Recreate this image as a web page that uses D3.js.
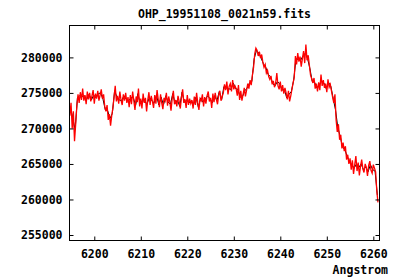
<!DOCTYPE html>
<html>
<head>
<meta charset="utf-8">
<script src="https://cdn.jsdelivr.net/npm/d3@7"></script>
<style>
  html, body { margin: 0; padding: 0; background: #fff; }
  #chart { width: 400px; height: 280px; }
  text { font-family: "DejaVu Sans Mono", monospace; font-weight: bold; font-size: 11.5px; fill: #000; }
</style>
</head>
<body>
<div id="chart"></div>
<script>
// spectrum header (linear wavelength grid, like CRVAL1 / CDELT1)
const TITLE = 'OHP_19951108_0021n59.fits';
const X_LABEL = 'Angstrom';

const redStart = 6194.75;
const redStep = 0.25;
// flux in thousands
const redFlux = [
  271.8, 273.6, 270.0, 272.4, 268.2, 270.6,
  273.2, 274.8, 273.6, 275.1, 274.0, 275.6, 273.9, 274.7, 273.4, 275.2,
  274.1, 275.0, 273.8, 274.6, 275.4, 273.5, 274.9, 274.2, 275.3, 273.9, 274.7,
  275.5, 274.2, 274.8, 273.1,
  272.4, 273.3, 271.2, 272.0, 270.4, 271.8,
  272.9, 274.4, 276.0, 273.8,
  274.6, 273.5, 275.2, 274.0, 273.3, 274.8, 273.9, 275.0, 273.6, 274.4, 273.0, 274.7,
  273.4, 275.2, 273.9, 272.6, 274.5, 273.7, 275.6, 273.1, 274.2, 272.8,
  274.9, 273.6, 274.3, 272.4, 274.0, 275.1, 273.3, 274.6, 273.8, 272.9,
  274.7, 273.5, 275.4, 274.1, 273.0, 274.8, 273.6, 272.7, 274.3, 273.9,
  275.0, 273.2, 274.5, 273.7, 272.5, 274.2, 275.3, 273.4, 274.0, 273.1,
  274.6, 273.8, 272.8, 274.4, 275.5, 273.6, 274.1, 272.9, 274.7, 273.3,
  274.2, 273.5,
  274.0, 272.8, 274.5, 273.3, 275.0, 273.6, 272.6, 274.2, 273.9, 274.8, 273.1, 274.4,
  273.5, 274.6, 275.2, 273.8, 274.3, 272.9, 274.9, 273.7, 275.0, 274.1, 273.4, 274.7, 275.3, 273.9, 274.5,
  275.0, 276.2, 275.4, 276.6, 274.8, 275.9, 276.3, 275.2, 276.8, 275.5, 276.0,
  275.6, 274.6, 276.1, 274.0, 275.3, 273.9, 274.8, 275.7, 274.5,
  275.4, 276.3, 275.6, 276.8, 276.1, 277.5,
  278.6, 280.5, 281.3,
  281.0, 280.2, 280.8, 279.9, 280.4,
  279.3, 278.6, 279.0, 277.8, 278.2, 277.3,
  276.9, 277.4, 276.2, 276.7, 275.8, 276.4,
  277.8,
  276.0, 275.5, 276.6, 275.2, 276.1, 274.9, 275.7,
  275.0, 274.1, 275.3, 273.8, 274.6,
  275.5, 276.4, 277.2,
  280.2,
  279.0, 280.6, 279.4, 280.1, 278.7, 279.8, 280.9, 279.2, 281.8, 279.6, 280.3,
  278.9, 277.5, 277.0,
  276.4, 277.1, 275.6, 276.3, 275.2,
  276.5, 275.4, 277.6, 276.0, 276.8, 275.7, 276.3, 275.1, 276.9, 275.8, 276.2, 275.3,
  274.4, 273.6, 274.8,
  271.2, 269.5, 270.6,
  268.4, 269.1, 267.2, 268.0,
  266.8, 267.5, 265.6, 266.3, 265.0,
  265.8, 264.2, 265.5, 263.6, 264.9, 266.1, 264.0, 265.2, 263.4, 264.7, 265.6,
  264.3, 263.8, 265.0, 264.5, 263.3, 264.8, 265.4, 264.1, 263.7, 264.9, 264.4,
  263.9, 261.2, 259.6
];

const blackStart = 6194.875;
const blackStep = 0.5;
const blackFlux = [
  272.9, 271.5, 269.8, 274.3, 274.6, 274.5, 274.6, 274.1, 274.8, 274.0,
  274.7, 274.3, 274.9, 275.0, 274.1, 272.6, 272.5, 271.4, 272.1, 275.3,
  274.4, 274.0, 273.9, 274.6, 274.1, 273.9, 274.3, 274.4, 273.2, 274.9,
  273.5, 274.0, 273.7, 273.5, 274.4, 273.9, 273.6, 274.7, 273.3, 274.4,
  273.3, 274.6, 273.7, 273.4, 274.9, 273.5, 274.0, 273.1, 275.1, 273.7,
  274.0, 273.6, 273.9, 273.4, 274.4, 273.0, 274.3, 273.7, 274.1, 274.6,
  274.2, 273.6, 274.6, 273.9, 275.2, 274.0, 275.9, 275.7, 275.6, 275.5,
  276.4, 275.6, 275.5, 274.4, 274.5, 275.3, 275.7, 276.4, 276.6, 279.8,
  281.0, 280.6, 279.9, 279.1, 278.6, 277.6, 277.3, 276.3, 276.0, 276.6,
  276.3, 275.4, 275.5, 274.3, 274.8, 275.2, 276.8, 279.8, 279.7, 279.6,
  280.2, 280.6, 279.8, 278.4, 276.6, 276.5, 275.7, 276.1, 276.7, 276.4,
  275.6, 276.5, 275.9, 274.2, 272.6, 270.1, 268.9, 267.4, 267.0, 266.1,
  265.3, 264.9, 264.4, 265.0, 264.5, 265.0, 264.2, 264.6, 263.9, 264.9,
  264.2, 264.0, 260.6
];

const xTicks = [6200, 6210, 6220, 6230, 6240, 6250, 6260];
const yTicks = [255000, 260000, 265000, 270000, 275000, 280000];

const width = 400;
const height = 280;
const margin = { top: 25.5, right: 20.5, bottom: 39.5, left: 69.5 };

const toPoints = (start, step, flux) =>
  flux.map((f, i) => ({ wave: start + i * step, flux: f * 1000 }));

const render = root => {
  const svg = d3.select(root).append('svg')
    .attr('width', width)
    .attr('height', height);

  const x = d3.scaleLinear()
    .domain([6194.67, 6261.33])
    .range([margin.left, width - margin.right]);

  const y = d3.scaleLinear()
    .domain([254226, 284490])
    .range([height - margin.bottom, margin.top]);

  svg.append('defs').append('clipPath').attr('id', 'clip')
    .append('rect')
    .attr('x', margin.left)
    .attr('y', margin.top)
    .attr('width', width - margin.left - margin.right)
    .attr('height', height - margin.top - margin.bottom);

  const line = d3.line()
    .x(d => x(d.wave))
    .y(d => y(d.flux));

  const plot = svg.append('g').attr('clip-path', 'url(#clip)');

  plot.append('path')
    .datum(toPoints(blackStart, blackStep, blackFlux))
    .attr('fill', 'none')
    .attr('stroke', '#000')
    .attr('stroke-width', 1)
    .attr('d', line);

  plot.append('path')
    .datum(toPoints(redStart, redStep, redFlux))
    .attr('fill', 'none')
    .attr('stroke', '#ff0000')
    .attr('stroke-width', 1.3)
    .attr('d', line);

  // axes, gnuplot style: ticks inside and mirrored
  svg.append('g')
    .attr('transform', `translate(0,${height - margin.bottom})`)
    .call(d3.axisBottom(x).tickValues(xTicks).tickSizeInner(-4).tickSizeOuter(0).tickPadding(9).tickFormat(d3.format('d')));
  svg.append('g')
    .attr('transform', `translate(${margin.left},0)`)
    .call(d3.axisLeft(y).tickValues(yTicks).tickSizeInner(-4).tickSizeOuter(0).tickPadding(7).tickFormat(d3.format('d')));
  svg.append('g')
    .attr('transform', `translate(0,${margin.top})`)
    .call(d3.axisTop(x).tickValues(xTicks).tickSizeInner(-4).tickSizeOuter(0).tickFormat(''));
  svg.append('g')
    .attr('transform', `translate(${width - margin.right},0)`)
    .call(d3.axisRight(y).tickValues(yTicks).tickSizeInner(-4).tickSizeOuter(0).tickFormat(''));

  svg.selectAll('.domain').remove();
  svg.selectAll('.tick line').attr('stroke', '#000');
  svg.selectAll('.tick text').attr('font-family', null).attr('font-size', null);

  svg.append('rect')
    .attr('x', margin.left)
    .attr('y', margin.top)
    .attr('width', width - margin.left - margin.right)
    .attr('height', height - margin.top - margin.bottom)
    .attr('fill', 'none')
    .attr('stroke', '#000');

  svg.append('text')
    .attr('x', (margin.left + width - margin.right) / 2)
    .attr('y', 18)
    .attr('text-anchor', 'middle')
    .text(TITLE);

  svg.append('text')
    .attr('x', 388)
    .attr('y', 274)
    .attr('text-anchor', 'end')
    .text(X_LABEL);

  return svg;
};

render(document.getElementById('chart'));
</script>
</body>
</html>
